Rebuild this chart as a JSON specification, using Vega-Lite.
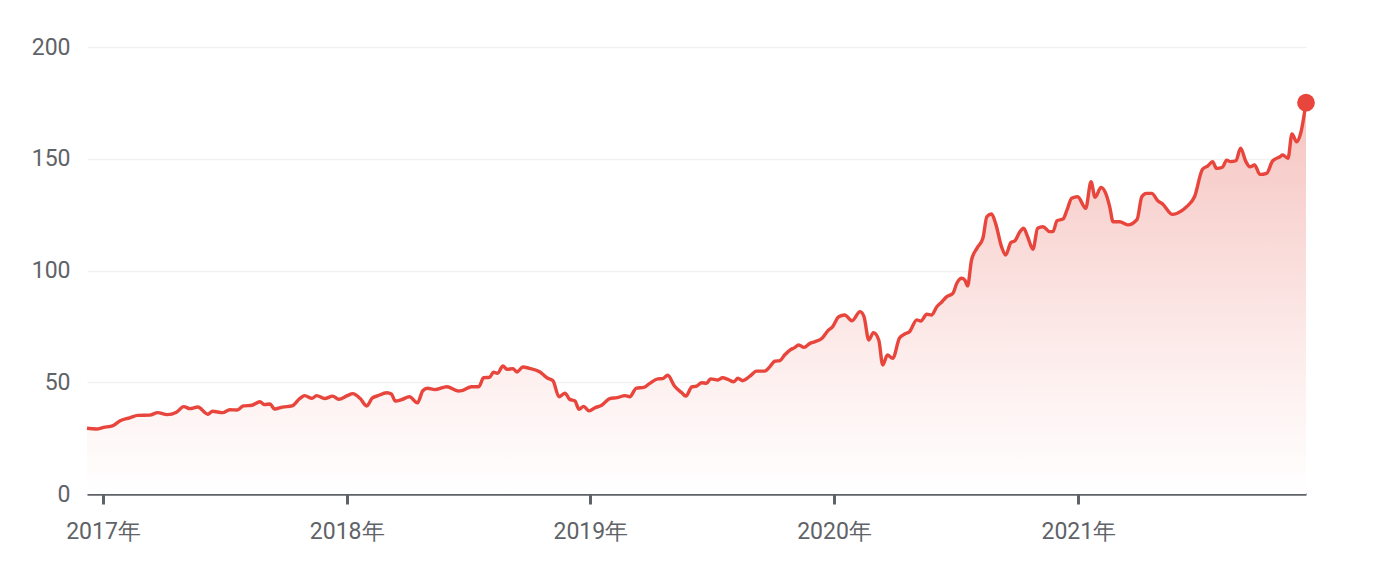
{
  "$schema": "https://vega.github.io/schema/vega-lite/v6.json",
  "width": 1219,
  "height": 447,
  "autosize": {"type": "none"},
  "padding": {"left": 87, "top": 47, "right": 68, "bottom": 68},
  "background": "white",
  "config": {
    "view": {"stroke": null},
    "font": "Roboto",
    "axis": {"labelFont": "Roboto", "labelColor": "#5f6368", "labelFontSize": 23}
  },
  "data": {
    "values": [
      {"date": "2016-12-08", "price": 29.4},
      {"date": "2016-12-22", "price": 29.1},
      {"date": "2017-01-02", "price": 29.8},
      {"date": "2017-01-16", "price": 30.6},
      {"date": "2017-01-26", "price": 32.7},
      {"date": "2017-02-10", "price": 34.1},
      {"date": "2017-02-22", "price": 35.2},
      {"date": "2017-03-12", "price": 35.3},
      {"date": "2017-03-24", "price": 36.4},
      {"date": "2017-04-07", "price": 35.5},
      {"date": "2017-04-21", "price": 36.6},
      {"date": "2017-05-02", "price": 39.1},
      {"date": "2017-05-11", "price": 38.2},
      {"date": "2017-05-23", "price": 38.9},
      {"date": "2017-06-07", "price": 35.7},
      {"date": "2017-06-14", "price": 37.0},
      {"date": "2017-06-29", "price": 36.4},
      {"date": "2017-07-10", "price": 37.7},
      {"date": "2017-07-21", "price": 37.6},
      {"date": "2017-07-30", "price": 39.4},
      {"date": "2017-08-12", "price": 39.7},
      {"date": "2017-08-24", "price": 41.3},
      {"date": "2017-08-31", "price": 40.0},
      {"date": "2017-09-08", "price": 40.3},
      {"date": "2017-09-15", "price": 38.0},
      {"date": "2017-09-27", "price": 38.9},
      {"date": "2017-10-11", "price": 39.4},
      {"date": "2017-10-23", "price": 42.8},
      {"date": "2017-10-30", "price": 44.0},
      {"date": "2017-11-10", "price": 42.8},
      {"date": "2017-11-17", "price": 44.0},
      {"date": "2017-11-29", "price": 42.7},
      {"date": "2017-12-11", "price": 43.8},
      {"date": "2017-12-20", "price": 42.4},
      {"date": "2018-01-02", "price": 44.0},
      {"date": "2018-01-10", "price": 44.9},
      {"date": "2018-01-21", "price": 42.8},
      {"date": "2018-01-31", "price": 39.4},
      {"date": "2018-02-08", "price": 42.8},
      {"date": "2018-02-17", "price": 44.0},
      {"date": "2018-03-02", "price": 45.3},
      {"date": "2018-03-09", "price": 44.7},
      {"date": "2018-03-15", "price": 41.6},
      {"date": "2018-03-24", "price": 42.2},
      {"date": "2018-04-05", "price": 43.5},
      {"date": "2018-04-17", "price": 40.8},
      {"date": "2018-04-25", "price": 46.2},
      {"date": "2018-05-02", "price": 47.3},
      {"date": "2018-05-13", "price": 46.7},
      {"date": "2018-05-31", "price": 48.0},
      {"date": "2018-06-17", "price": 46.1},
      {"date": "2018-06-24", "price": 46.4},
      {"date": "2018-07-07", "price": 48.0},
      {"date": "2018-07-18", "price": 48.0},
      {"date": "2018-07-25", "price": 52.0},
      {"date": "2018-08-03", "price": 52.2},
      {"date": "2018-08-09", "price": 54.5},
      {"date": "2018-08-15", "price": 54.0},
      {"date": "2018-08-23", "price": 57.3},
      {"date": "2018-08-29", "price": 55.8},
      {"date": "2018-09-07", "price": 56.1},
      {"date": "2018-09-13", "price": 54.6},
      {"date": "2018-09-22", "price": 56.8},
      {"date": "2018-10-02", "price": 56.2},
      {"date": "2018-10-17", "price": 54.7},
      {"date": "2018-10-28", "price": 52.0},
      {"date": "2018-11-06", "price": 50.7},
      {"date": "2018-11-15", "price": 43.5},
      {"date": "2018-11-24", "price": 45.1},
      {"date": "2018-12-01", "price": 42.4},
      {"date": "2018-12-09", "price": 41.6},
      {"date": "2018-12-15", "price": 37.9},
      {"date": "2018-12-22", "price": 39.2},
      {"date": "2018-12-30", "price": 37.2},
      {"date": "2019-01-08", "price": 38.6},
      {"date": "2019-01-18", "price": 39.7},
      {"date": "2019-01-30", "price": 42.7},
      {"date": "2019-02-10", "price": 43.1},
      {"date": "2019-02-22", "price": 44.0},
      {"date": "2019-03-01", "price": 43.5},
      {"date": "2019-03-11", "price": 47.4},
      {"date": "2019-03-22", "price": 47.7},
      {"date": "2019-03-31", "price": 49.5},
      {"date": "2019-04-12", "price": 51.5},
      {"date": "2019-04-19", "price": 51.6},
      {"date": "2019-04-27", "price": 53.1},
      {"date": "2019-05-07", "price": 48.3},
      {"date": "2019-05-18", "price": 45.3},
      {"date": "2019-05-24", "price": 43.8},
      {"date": "2019-06-02", "price": 47.9},
      {"date": "2019-06-09", "price": 48.3},
      {"date": "2019-06-17", "price": 49.8},
      {"date": "2019-06-24", "price": 49.5},
      {"date": "2019-06-30", "price": 51.5},
      {"date": "2019-07-11", "price": 51.0},
      {"date": "2019-07-18", "price": 52.0},
      {"date": "2019-07-26", "price": 51.3},
      {"date": "2019-08-04", "price": 50.2},
      {"date": "2019-08-10", "price": 51.8},
      {"date": "2019-08-17", "price": 50.7},
      {"date": "2019-08-28", "price": 52.7},
      {"date": "2019-09-07", "price": 55.0},
      {"date": "2019-09-19", "price": 55.0},
      {"date": "2019-09-27", "price": 57.0},
      {"date": "2019-10-04", "price": 59.4},
      {"date": "2019-10-12", "price": 59.7},
      {"date": "2019-10-19", "price": 62.2},
      {"date": "2019-10-27", "price": 64.4},
      {"date": "2019-11-03", "price": 65.5},
      {"date": "2019-11-09", "price": 66.7},
      {"date": "2019-11-17", "price": 65.6},
      {"date": "2019-11-26", "price": 67.4},
      {"date": "2019-12-03", "price": 68.1},
      {"date": "2019-12-14", "price": 69.7},
      {"date": "2019-12-23", "price": 73.1},
      {"date": "2019-12-30", "price": 74.9},
      {"date": "2020-01-08", "price": 79.3},
      {"date": "2020-01-17", "price": 80.1},
      {"date": "2020-01-28", "price": 77.5},
      {"date": "2020-02-09", "price": 81.6},
      {"date": "2020-02-15", "price": 79.3},
      {"date": "2020-02-22", "price": 68.9},
      {"date": "2020-02-29", "price": 72.2},
      {"date": "2020-03-08", "price": 68.9},
      {"date": "2020-03-14", "price": 57.7},
      {"date": "2020-03-21", "price": 62.2},
      {"date": "2020-03-29", "price": 60.7},
      {"date": "2020-04-08", "price": 69.7},
      {"date": "2020-04-16", "price": 71.6},
      {"date": "2020-04-23", "price": 72.6},
      {"date": "2020-05-04", "price": 77.9},
      {"date": "2020-05-10", "price": 77.4},
      {"date": "2020-05-19", "price": 80.4},
      {"date": "2020-05-26", "price": 80.1},
      {"date": "2020-06-03", "price": 83.8},
      {"date": "2020-06-10", "price": 85.8},
      {"date": "2020-06-18", "price": 88.3},
      {"date": "2020-06-27", "price": 89.8},
      {"date": "2020-07-03", "price": 94.3},
      {"date": "2020-07-10", "price": 96.5},
      {"date": "2020-07-15", "price": 95.7},
      {"date": "2020-07-19", "price": 93.1},
      {"date": "2020-07-25", "price": 104.7},
      {"date": "2020-08-02", "price": 109.9},
      {"date": "2020-08-11", "price": 114.4},
      {"date": "2020-08-17", "price": 124.1},
      {"date": "2020-08-24", "price": 125.3},
      {"date": "2020-08-30", "price": 121.1},
      {"date": "2020-09-08", "price": 110.6},
      {"date": "2020-09-14", "price": 106.9},
      {"date": "2020-09-22", "price": 112.5},
      {"date": "2020-09-28", "price": 113.3},
      {"date": "2020-10-05", "price": 117.1},
      {"date": "2020-10-11", "price": 118.9},
      {"date": "2020-10-17", "price": 115.1},
      {"date": "2020-10-25", "price": 109.5},
      {"date": "2020-11-01", "price": 118.9},
      {"date": "2020-11-09", "price": 119.6},
      {"date": "2020-11-19", "price": 117.4},
      {"date": "2020-11-24", "price": 117.4},
      {"date": "2020-11-30", "price": 122.3},
      {"date": "2020-12-09", "price": 123.0},
      {"date": "2020-12-15", "price": 127.1},
      {"date": "2020-12-22", "price": 132.3},
      {"date": "2020-12-31", "price": 133.0},
      {"date": "2021-01-12", "price": 127.8},
      {"date": "2021-01-20", "price": 139.7},
      {"date": "2021-01-26", "price": 132.8},
      {"date": "2021-02-04", "price": 137.2},
      {"date": "2021-02-11", "price": 134.5},
      {"date": "2021-02-17", "price": 128.5},
      {"date": "2021-02-22", "price": 121.8},
      {"date": "2021-03-04", "price": 121.8},
      {"date": "2021-03-16", "price": 120.4},
      {"date": "2021-03-30", "price": 122.9},
      {"date": "2021-04-06", "price": 133.0},
      {"date": "2021-04-13", "price": 134.5},
      {"date": "2021-04-21", "price": 134.5},
      {"date": "2021-04-30", "price": 131.2},
      {"date": "2021-05-07", "price": 129.8},
      {"date": "2021-05-22", "price": 125.1},
      {"date": "2021-06-05", "price": 126.8},
      {"date": "2021-06-12", "price": 128.5},
      {"date": "2021-06-24", "price": 133.0},
      {"date": "2021-07-06", "price": 145.3},
      {"date": "2021-07-14", "price": 146.8},
      {"date": "2021-07-21", "price": 148.7},
      {"date": "2021-07-27", "price": 145.7},
      {"date": "2021-08-05", "price": 146.2},
      {"date": "2021-08-11", "price": 149.4},
      {"date": "2021-08-17", "price": 148.7},
      {"date": "2021-08-25", "price": 149.1},
      {"date": "2021-09-01", "price": 154.7},
      {"date": "2021-09-09", "price": 148.7},
      {"date": "2021-09-15", "price": 146.4},
      {"date": "2021-09-22", "price": 147.2},
      {"date": "2021-09-30", "price": 143.0},
      {"date": "2021-10-10", "price": 143.5},
      {"date": "2021-10-19", "price": 149.0},
      {"date": "2021-10-30", "price": 150.9},
      {"date": "2021-11-03", "price": 151.7},
      {"date": "2021-11-11", "price": 150.2},
      {"date": "2021-11-17", "price": 161.1},
      {"date": "2021-11-24", "price": 157.6},
      {"date": "2021-11-30", "price": 161.4},
      {"date": "2021-12-08", "price": 175.1}
    ]
  },
  "encoding": {
    "x": {
      "field": "date",
      "type": "temporal",
      "scale": {"type": "utc", "nice": false},
      "axis": {
        "title": null,
        "labelExpr": "utcFormat(datum.value, '%Y') + '年'",
        "tickCount": {"interval": "year", "step": 1},
        "grid": false,
        "domainColor": "#5f6368",
        "domainWidth": 2.5,
        "tickColor": "#5f6368",
        "tickWidth": 3,
        "tickSize": 10,
        "labelPadding": 16,
        "labelFontSize": 23
      }
    },
    "y": {
      "field": "price",
      "type": "quantitative",
      "scale": {"domain": [0, 200], "nice": false},
      "axis": {
        "title": null,
        "values": [0, 50, 100, 150, 200],
        "domain": false,
        "ticks": false,
        "labelPadding": 17,
        "gridColor": "#f1f1f1",
        "gridWidth": 1.5,
        "labelFontSize": 23
      }
    }
  },
  "layer": [
    {
      "mark": {
        "type": "area",
        "interpolate": "monotone",
        "color": {
          "gradient": "linear",
          "x1": 0, "y1": 1, "x2": 0, "y2": 0,
          "stops": [
            {"offset": 0, "color": "#ffffff"},
            {"offset": 0.3, "color": "#fdf0ef"},
            {"offset": 1, "color": "#f5c4c0"}
          ]
        }
      }
    },
    {
      "mark": {"type": "line", "interpolate": "monotone", "color": "#e8453c", "strokeWidth": 3.4}
    },
    {
      "transform": [{"filter": {"field": "price", "equal": 175.1}}],
      "mark": {"type": "point", "shape": "circle", "filled": true, "opacity": 1, "color": "#e8453c", "size": 314}
    }
  ]
}
